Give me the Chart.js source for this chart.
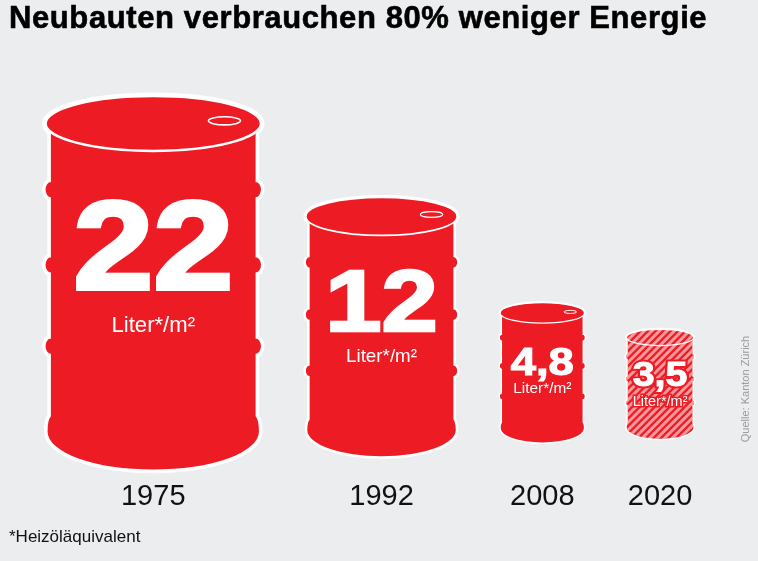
<!DOCTYPE html>
<html>
<head>
<meta charset="utf-8">
<script src="https://cdn.jsdelivr.net/npm/chart.js@4.4.1/dist/chart.umd.min.js"></script>
<style>
  body { margin: 0; background: #ecedef; }
  #wrap { position: relative; width: 758px; height: 561px; overflow: hidden; }
  #chart { position: absolute; left: 0; top: 0; }
  .title { position: absolute; left: 9px; top: 0; font: bold 31px "Liberation Sans", Arial, sans-serif;
           letter-spacing: 0.6px; color: #000; -webkit-text-stroke: 0.6px #000; white-space: nowrap; }
  .note { position: absolute; left: 9px; top: 527px; line-height: 18px;
          font: 17px "Liberation Sans", Arial, sans-serif; color: #111; }
  .source { position: absolute; left: 685px; top: 383px; width: 120px; text-align: center;
            font: 11px "Liberation Sans", Arial, sans-serif; color: #9a9a9a;
            transform: rotate(-90deg); white-space: nowrap; }
</style>
</head>
<body>
<div id="wrap">
  <canvas id="chart" width="758" height="561"></canvas>
  <div class="title">Neubauten verbrauchen 80% weniger Energie</div>
  <div class="note">*Heizöläquivalent</div>
  <div class="source">Quelle: Kanton Zürich</div>
</div>
<script>
// Heizölverbrauch pro m² Neubau
var years = ['1975', '1992', '2008', '2020'];
var liters = [22, 12, 4.8, 3.5];
var valueText = ['22', '12', '4,8', '3,5'];
var forecast = [false, false, false, true];

var RED = '#ed1c24';
var SANS = '"Liberation Sans", Arial, sans-serif';
var GROUND = 0.69;   // barrels stand on this level of the sqrt axis
var RIM = 0.12;      // extra barrel width, in x units
var GAP = 0.72;      // space between barrels, in x units
var RIBS = [0.255, 0.453, 0.666];

// barrel size follows the square root of the consumption
var sizes = liters.map(Math.sqrt);
var widths = sizes.map(function (s) { return s - GROUND + RIM; });
var centers = [];
var acc = 0;
widths.forEach(function (w) {
    centers.push(acc + w / 2);
    acc += w + GAP;
});

var barrelPath = function (ctx, cx, top, w, h, ow) {
    var rxL = w / 2 - ow, ryL = h * 0.072, cyL = top + ow + ryL;
    var bh = w * 0.46, rh = w * 0.475, ryB = h * 0.1, cyB = top + h - ow - ryB;
    var rr = w * 0.024, rry = h * 0.02;
    ctx.beginPath();
    ctx.moveTo(cx - bh, cyL);
    ctx.lineTo(cx - bh, cyB - h * 0.04);
    ctx.quadraticCurveTo(cx - rh, cyB - h * 0.03, cx - rh, cyB);
    ctx.ellipse(cx, cyB, rh, ryB, 0, Math.PI, 0, true);
    ctx.quadraticCurveTo(cx + rh, cyB - h * 0.03, cx + bh, cyB - h * 0.04);
    ctx.lineTo(cx + bh, cyL);
    ctx.closePath();
    // all parts drawn anticlockwise so the union fills
    ctx.moveTo(cx + rxL, cyL);
    ctx.ellipse(cx, cyL, rxL, ryL, 0, 0, -2 * Math.PI, true);
    RIBS.forEach(function (f) {
        [-1, 1].forEach(function (side) {
            var ex = cx + side * bh, ey = top + f * h;
            ctx.moveTo(ex + rr, ey);
            ctx.ellipse(ex, ey, rr, rry, 0, 0, -2 * Math.PI, true);
        });
    });
    return {cyL: cyL, rxL: rxL, ryL: ryL};
};

var drawBarrel = function (ctx, cx, top, w, h, hatched) {
    var ow = Math.max(1.5, w * 0.016);
    ctx.save();
    var lid = barrelPath(ctx, cx, top, w, h, ow);
    ctx.lineJoin = 'round';
    ctx.strokeStyle = '#fff';
    ctx.lineWidth = ow * 2;
    ctx.stroke();
    ctx.fillStyle = RED;
    ctx.fill();
    if (hatched) {
        ctx.save();
        ctx.clip();
        ctx.beginPath();
        for (var d = -h; d < w + h; d += 7.5) {
            ctx.moveTo(cx - w / 2 + d, top + h);
            ctx.lineTo(cx - w / 2 + d + h, top);
        }
        ctx.strokeStyle = 'rgba(255,255,255,0.55)';
        ctx.lineWidth = 3;
        ctx.stroke();
        ctx.restore();
    }
    // lid rim
    ctx.beginPath();
    ctx.ellipse(cx, lid.cyL, lid.rxL, lid.ryL, 0, 0, 2 * Math.PI);
    ctx.strokeStyle = '#fff';
    ctx.lineWidth = Math.max(1.3, w * 0.011);
    ctx.stroke();
    // filler hole
    if (!hatched) {
        ctx.beginPath();
        ctx.ellipse(cx + w * 0.32, lid.cyL - lid.ryL * 0.1, w * 0.072, lid.ryL * 0.15, 0, 0, 2 * Math.PI);
        ctx.lineWidth = Math.max(1, w * 0.007);
        ctx.stroke();
    }
    ctx.restore();
};

var drawValue = function (ctx, cx, top, w, h, txt, halo) {
    var nb = top + 0.515 * h;
    var fit = halo ? 0.78 : 0.72;
    ctx.save();
    ctx.textAlign = 'center';
    ctx.textBaseline = 'alphabetic';
    ctx.font = 'bold 100px ' + SANS;
    var fs = 100 * fit * w / ctx.measureText(txt).width / 1.15;
    ctx.font = 'bold ' + fs + 'px ' + SANS;
    ctx.save();
    ctx.translate(cx, nb);
    ctx.scale(1.15, 1);
    if (halo) {
        ctx.strokeStyle = RED;
        ctx.lineWidth = 5;
        ctx.strokeText(txt, 0, 0);
    }
    ctx.fillStyle = '#fff';
    ctx.strokeStyle = '#fff';
    ctx.lineWidth = fs * 0.03;
    ctx.strokeText(txt, 0, 0);
    ctx.fillText(txt, 0, 0);
    ctx.restore();

    var ly = nb + 0.18 * w + (halo ? 8 : 3);
    ctx.font = (11 + 0.05 * w) + 'px ' + SANS;
    if (halo) {
        ctx.strokeStyle = RED;
        ctx.lineWidth = 3;
        ctx.strokeText('Liter*/m²', cx, ly);
    }
    ctx.fillStyle = '#fff';
    ctx.fillText('Liter*/m²', cx, ly);
    ctx.restore();
};

var barrels = {
    id: 'barrels',
    afterDatasetsDraw: function (chart) {
        var ctx = chart.ctx;
        var x = chart.scales.x, y = chart.scales.y;
        var base = y.getPixelForValue(GROUND);
        chart.getDatasetMeta(0).data.forEach(function (pt, i) {
            var up = base - pt.y;
            var h = up * 1.14;   // lower rim sits a bit below the ground line
            var w = x.getPixelForValue(widths[i]) - x.getPixelForValue(0);
            drawBarrel(ctx, pt.x, pt.y, w, h, forecast[i]);
            drawValue(ctx, pt.x, pt.y, w, h, valueText[i], forecast[i]);
        });
    }
};

var chart = new Chart(document.getElementById('chart'), {
    type: 'scatter',
    data: {
        datasets: [{
            data: sizes.map(function (s, i) { return {x: centers[i], y: s}; }),
            pointRadius: 0,
            pointHoverRadius: 0
        }]
    },
    options: {
        responsive: false,
        animation: false,
        layout: {padding: {left: 42, right: 58, top: 25, bottom: 37}},
        plugins: {legend: {display: false}, tooltip: {enabled: false}},
        scales: {
            x: {
                type: 'linear',
                min: 0,
                max: 12.185,
                grid: {display: false},
                border: {display: false},
                afterBuildTicks: function (axis) {
                    axis.ticks = centers.map(function (c) { return {value: c}; });
                },
                afterFit: function (axis) { axis.height = 40; },
                ticks: {
                    autoSkip: false,
                    maxRotation: 0,
                    padding: -12,
                    color: '#111',
                    font: {family: SANS, size: 29},
                    callback: function (v, i) { return years[i]; }
                }
            },
            y: {display: false, min: 0, max: 5.5}
        }
    },
    plugins: [barrels]
});
</script>
</body>
</html>
